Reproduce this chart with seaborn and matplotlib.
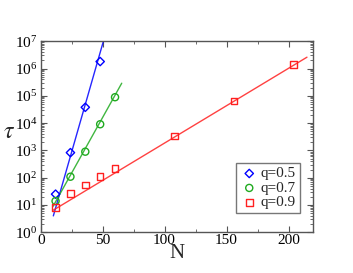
import numpy as np
import pandas as pd
import matplotlib
matplotlib.use("Agg")
import matplotlib.pyplot as plt
import matplotlib.ticker as mticker
import seaborn as sns

# data
n_05 = [12, 24, 36, 48]
tau_05 = [25, 830, 3.8e4, 1.8e6]
n_07 = [12, 24, 36, 48, 60]
tau_07 = [14, 109, 900, 9.1e3, 8.9e4]
n_09 = [12, 24, 36, 48, 60, 108, 156, 204]
tau_09 = [8, 27, 54, 109, 220, 3.4e3, 6.4e4, 1.42e6]

# fitted straight lines (end points)
fit_n_05 = [10.2, 50.6]
fit_tau_05 = [4.0, 1e7]
fit_n_07 = [10.0, 65.4]
fit_tau_07 = [9.0, 2.9e5]
fit_n_09 = [10.2, 214.9]
fit_tau_09 = [6.5, 2.6e6]

labels = ["q=0.5", "q=0.7", "q=0.9"]
colors = ["#0000ff", "#1faa1f", "#ff2020"]
markers = ["D", "o", "s"]
msizes = [18, 26, 22]

sns.set_style("ticks")
plt.rcParams["font.family"] = ["Liberation Serif", "DejaVu Serif"]
plt.rcParams["mathtext.fontset"] = "stix"

fig = plt.figure(figsize=(3.53, 2.73), dpi=100)
ax = fig.add_axes([0.1153, 0.149, 0.7722, 0.700])

points = [(n_05, tau_05), (n_07, tau_07), (n_09, tau_09)]
fits = [(fit_n_05, fit_tau_05), (fit_n_07, fit_tau_07), (fit_n_09, fit_tau_09)]

for i in range(3):
    fx, fy = fits[i]
    sns.lineplot(x=fx, y=fy, ax=ax, color=colors[i], lw=1.0, alpha=0.85)
    px, py = points[i]
    sns.scatterplot(x=px, y=py, ax=ax, marker=markers[i], s=msizes[i],
                    facecolors="none", edgecolor=colors[i], linewidth=1.0,
                    label=labels[i], zorder=3)

ax.set_yscale("log")
ax.set_xlim(0, 220)
ax.set_ylim(1, 1e7)

ax.xaxis.set_major_locator(mticker.MultipleLocator(50))
ax.xaxis.set_minor_locator(mticker.MultipleLocator(25))
ax.yaxis.set_major_locator(mticker.LogLocator(base=10, numticks=10))
ax.yaxis.set_minor_locator(mticker.LogLocator(base=10, subs=np.arange(2, 10), numticks=20))
ax.yaxis.set_minor_formatter(mticker.NullFormatter())

ax.tick_params(which="both", direction="in", top=True, right=True,
               colors="#555555", labelcolor="black", labelsize=11, pad=1)
ax.tick_params(axis="y", which="major", pad=2.5)
ax.tick_params(which="major", length=4)
ax.tick_params(which="minor", length=2)
for s in ax.spines.values():
    s.set_color("#555555")
    s.set_linewidth(1.0)

ax.set_xlabel("N", fontsize=15, labelpad=-2)
ax.set_ylabel(r"$\tau$", fontsize=17, rotation=0, labelpad=6)
ax.yaxis.set_label_coords(-0.118, 0.47)

leg = ax.legend(loc="lower right", bbox_to_anchor=(0.95, 0.1), fontsize=11,
                frameon=True, fancybox=False, handletextpad=0.1,
                borderpad=0.25, labelspacing=0.05, handlelength=1.3,
                borderaxespad=0.0)
leg.get_frame().set_edgecolor("#555555")
leg.get_frame().set_linewidth(1.0)

fig.savefig("out.png", dpi=100)
